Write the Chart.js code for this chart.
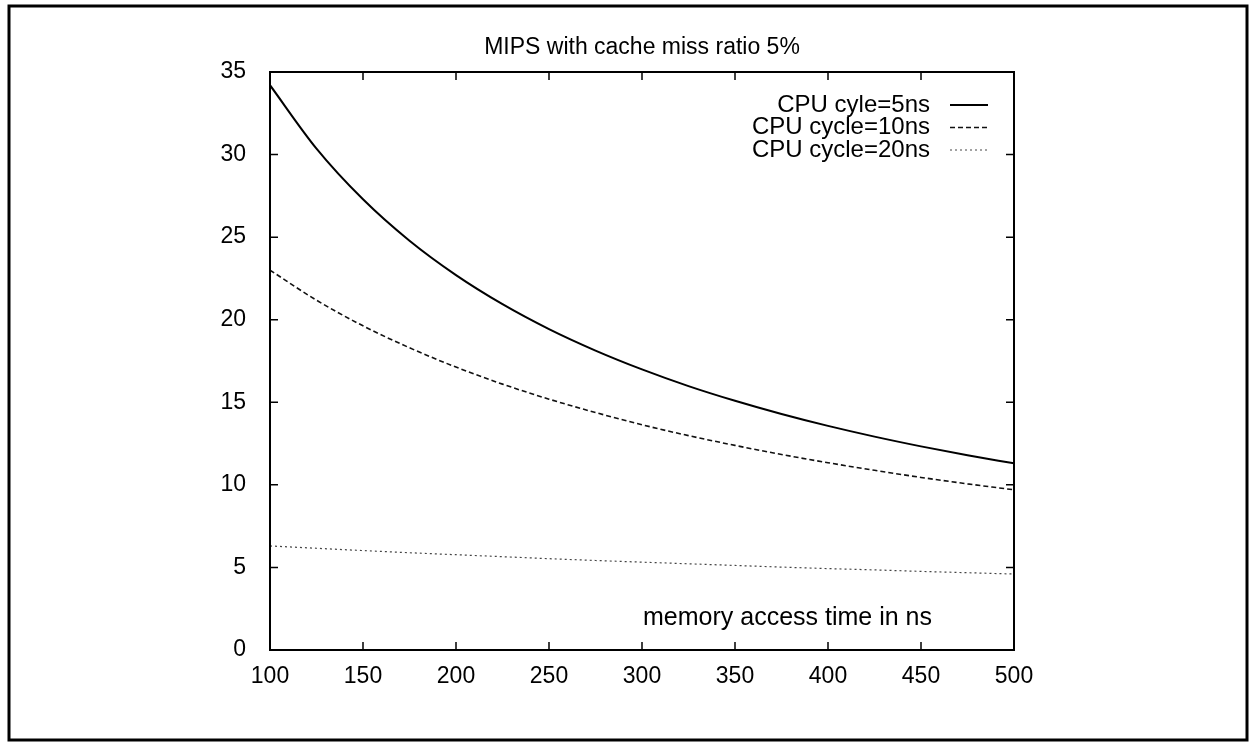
<!DOCTYPE html>
<html>
<head>
<meta charset="utf-8">
<script src="https://cdn.jsdelivr.net/npm/chart.js@4"></script>
<style>
  html, body { margin: 0; padding: 0; background: #fff; }
  #wrap { width: 1256px; height: 743px; }
</style>
</head>
<body>
<div id="wrap"><canvas id="grafico"></canvas></div>
<script>
// valores
const tempos = [100, 125, 150, 175, 200, 225, 250, 275, 300, 325, 350, 375, 400, 425, 450, 475, 500];
const ciclo5 = [34.2, 30.36, 27.29, 24.78, 22.7, 20.94, 19.43, 18.13, 16.99, 15.98, 15.09, 14.29, 13.57, 12.92, 12.33, 11.79, 11.3];
const ciclo10 = [23.0, 21.18, 19.63, 18.3, 17.13, 16.1, 15.19, 14.38, 13.64, 12.98, 12.39, 11.84, 11.34, 10.88, 10.45, 10.06, 9.7];
const ciclo20 = [6.3, 6.16, 6.02, 5.89, 5.77, 5.65, 5.53, 5.42, 5.32, 5.22, 5.12, 5.02, 4.93, 4.85, 4.76, 4.68, 4.6];
const nomes = ['CPU cyle=5ns', 'CPU cycle=10ns', 'CPU cycle=20ns'];
const ticksX = [100, 150, 200, 250, 300, 350, 400, 450, 500];
const ticksY = [0, 5, 10, 15, 20, 25, 30, 35];
const titulo = 'MIPS with cache miss ratio 5%';
const rotuloX = 'memory access time in ns';

const fonte = '"Liberation Sans", Arial, sans-serif';
const tracos = [[], [5, 3], [2, 3]];
const larguras = [2, 1.6, 1.2];
const cores = ['#000', '#111', '#444'];

function pontos(ys) {
    return tempos.map((t, i) => ({ x: t, y: ys[i] }));
}

const series = [ciclo5, ciclo10, ciclo20];
const dados = {
    datasets: series.map((s, i) => ({
        label: nomes[i],
        data: pontos(s),
        borderColor: cores[i],
        borderWidth: larguras[i],
        borderDash: tracos[i],
        pointRadius: 0,
        fill: false,
        cubicInterpolationMode: 'monotone'
    }))
};

// moldura, ticks para dentro, titulo, legenda
const extras = {
    id: 'extras',
    afterDraw(chart) {
        const ctx = chart.ctx;
        const a = chart.chartArea;
        const sx = chart.scales.x, sy = chart.scales.y;
        ctx.save();
        ctx.strokeStyle = '#000';
        ctx.lineWidth = 3;
        ctx.strokeRect(9, 6, 1238, 734);

        ctx.lineWidth = 2;
        ctx.strokeRect(a.left, a.top, a.right - a.left, a.bottom - a.top);
        ctx.lineWidth = 1.5;
        ctx.beginPath();
        ticksX.forEach(v => {
            const px = sx.getPixelForValue(v);
            ctx.moveTo(px, a.bottom); ctx.lineTo(px, a.bottom - 8);
            ctx.moveTo(px, a.top); ctx.lineTo(px, a.top + 8);
        });
        ticksY.forEach(v => {
            const py = sy.getPixelForValue(v);
            ctx.moveTo(a.left, py); ctx.lineTo(a.left + 8, py);
            ctx.moveTo(a.right, py); ctx.lineTo(a.right - 8, py);
        });
        ctx.stroke();

        ctx.fillStyle = '#000';
        ctx.font = '23px ' + fonte;
        ctx.textAlign = 'center';
        ctx.textBaseline = 'middle';
        ctx.fillText(titulo, (a.left + a.right) / 2, 48);

        ctx.textAlign = 'right';
        ctx.font = '25px ' + fonte;
        ctx.fillText(rotuloX, a.right - 82, a.bottom - 32);

        ctx.font = '24px ' + fonte;
        nomes.forEach((n, i) => {
            const y = a.top + 33 + i * 22.5;
            ctx.fillStyle = '#000';
            ctx.fillText(n, a.right - 84, y);
            ctx.beginPath();
            ctx.strokeStyle = cores[i];
            ctx.lineWidth = larguras[i];
            ctx.setLineDash(tracos[i]);
            ctx.moveTo(a.right - 64, y);
            ctx.lineTo(a.right - 26, y);
            ctx.stroke();
        });
        ctx.restore();
    }
};

const configuracao = {
    type: 'line',
    data: dados,
    options: {
        responsive: true,
        maintainAspectRatio: false,
        animation: false,
        layout: { padding: { top: 72, right: 242, left: 0, bottom: 0 } },
        plugins: { legend: { display: false }, title: { display: false }, tooltip: { enabled: false } },
        scales: {
            x: {
                type: 'linear',
                min: 100, max: 500,
                afterBuildTicks: s => { s.ticks = ticksX.map(v => ({ value: v })); },
                afterFit: s => { s.height = 93; },
                grid: { display: false },
                border: { display: false },
                ticks: { color: '#000', font: { family: fonte, size: 23 }, padding: 5, maxRotation: 0 }
            },
            y: {
                min: 0, max: 35,
                afterBuildTicks: s => { s.ticks = ticksY.map(v => ({ value: v })); },
                afterFit: s => { s.width = 270; },
                grid: { display: false },
                border: { display: false },
                ticks: { color: '#000', font: { family: fonte, size: 23 }, padding: 16 }
            }
        }
    },
    plugins: [extras]
};

var meuGrafico = new Chart(document.getElementById('grafico'), configuracao);
</script>
</body>
</html>
